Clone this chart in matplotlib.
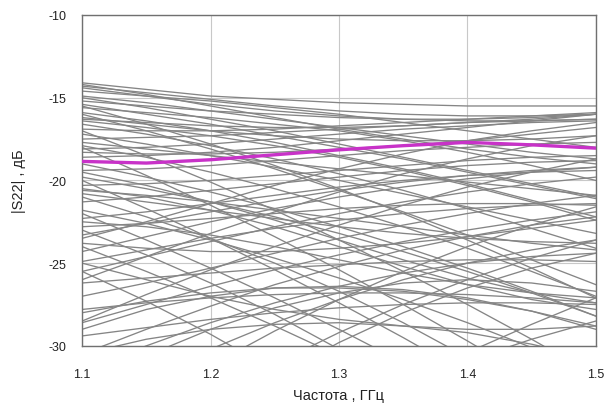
import numpy as np
import matplotlib
matplotlib.use("Agg")
import matplotlib.pyplot as plt

plt.rcParams['font.family'] = ['Liberation Sans', 'DejaVu Sans']
plt.rcParams['axes.unicode_minus'] = False

# frequency grid, GHz
freq = [1.10, 1.15, 1.20, 1.25, 1.30, 1.35, 1.40, 1.45, 1.50]

# nominal |S22|, dB
nominal = [-18.85, -18.95, -18.75, -18.45, -18.15, -17.9, -17.7, -17.85, -18.05]

# Monte Carlo runs, |S22| in dB at each frequency
runs = [
    [-14.1, -14.5, -14.9, -15.1, -15.3, -15.4, -15.5, -15.5, -15.5],
    [-14.3, -14.7, -15.1, -15.5, -15.8, -16.0, -16.1, -16.1, -16.0],
    [-14.6, -14.9, -15.2, -15.6, -16.0, -16.5, -17.0, -17.5, -18.0],
    [-14.9, -15.3, -15.8, -16.3, -16.8, -17.3, -17.8, -18.3, -18.7],
    [-15.2, -15.5, -15.8, -16.0, -16.2, -16.3, -16.3, -16.2, -16.0],
    [-15.6, -15.9, -16.2, -16.6, -17.0, -17.6, -18.3, -19.1, -20.0],
    [-15.9, -16.4, -17.0, -17.7, -18.5, -19.3, -20.2, -21.2, -22.2],
    [-16.2, -16.6, -17.0, -17.3, -17.5, -17.6, -17.6, -17.5, -17.3],
    [-16.6, -17.2, -17.9, -18.7, -19.6, -20.6, -21.7, -22.9, -24.1],
    [-16.9, -17.0, -17.0, -16.9, -16.7, -16.5, -16.3, -16.1, -15.9],
    [-17.2, -17.8, -18.5, -19.2, -20.0, -20.8, -21.6, -22.4, -23.2],
    [-17.5, -17.4, -17.3, -17.1, -16.9, -16.7, -16.5, -16.4, -16.3],
    [-17.9, -18.6, -19.5, -20.5, -21.6, -22.8, -24.1, -25.5, -27.0],
    [-18.3, -18.4, -18.4, -18.3, -18.1, -17.9, -17.6, -17.2, -16.8],
    [-14.2, -14.8, -15.5, -16.2, -16.9, -17.5, -18.1, -18.6, -19.0],
    [-15.0, -15.6, -16.3, -17.0, -17.8, -18.6, -19.4, -20.2, -21.0],
    [-14.4, -14.9, -15.4, -15.8, -16.1, -16.3, -16.4, -16.4, -16.3],
    [-15.4, -16.0, -16.6, -17.3, -18.0, -18.7, -19.5, -20.3, -21.1],
    [-16.4, -16.8, -17.3, -17.9, -18.6, -19.4, -20.3, -21.3, -22.4],
    [-17.7, -18.1, -18.5, -18.9, -19.3, -19.7, -20.1, -20.5, -20.9],
    [-18.1, -18.0, -17.8, -17.5, -17.2, -16.9, -16.7, -16.5, -16.4],
    [-19.0, -19.8, -20.7, -21.7, -22.8, -24.0, -25.3, -26.7, -28.2],
    [-19.4, -19.3, -19.1, -18.8, -18.5, -18.2, -18.0, -17.8, -17.7],
    [-19.8, -20.5, -21.3, -22.2, -23.2, -24.3, -25.5, -26.8, -28.2],
    [-20.3, -20.2, -20.0, -19.7, -19.4, -19.1, -18.8, -18.6, -18.5],
    [-20.8, -21.3, -21.8, -22.3, -22.8, -23.2, -23.5, -23.7, -23.8],
    [-21.3, -21.0, -20.6, -20.2, -19.8, -19.4, -19.1, -18.9, -18.8],
    [-21.8, -22.6, -23.6, -24.7, -25.9, -27.2, -28.6, -30.1, -31.6],
    [-22.3, -21.9, -21.4, -20.9, -20.4, -20.0, -19.7, -19.5, -19.4],
    [-22.8, -22.6, -22.3, -22.0, -21.7, -21.5, -21.4, -21.4, -21.5],
    [-23.3, -22.6, -21.9, -21.2, -20.6, -20.1, -19.7, -19.4, -19.2],
    [-24.3, -23.4, -22.5, -21.7, -21.0, -20.4, -19.9, -19.5, -19.2],
    [-24.9, -24.2, -23.5, -22.9, -22.4, -22.0, -21.7, -21.5, -21.4],
    [-25.5, -24.6, -23.7, -22.8, -22.0, -21.3, -20.7, -20.2, -19.8],
    [-26.2, -25.9, -25.6, -25.3, -25.1, -24.9, -24.8, -24.8, -24.9],
    [-27.0, -26.2, -25.3, -24.4, -23.5, -22.7, -22.0, -21.4, -20.9],
    [-27.8, -27.4, -27.1, -26.9, -26.8, -26.8, -26.9, -27.1, -27.4],
    [-28.6, -27.5, -26.4, -25.4, -24.5, -23.7, -23.0, -22.4, -21.9],
    [-29.4, -28.9, -28.4, -28.0, -27.7, -27.5, -27.4, -27.4, -27.5],
    [-30.5, -29.0, -27.6, -26.3, -25.2, -24.2, -23.4, -22.7, -22.2],
    [-31.5, -30.0, -28.6, -27.4, -26.4, -25.6, -25.0, -24.6, -24.4],
    [-17.0, -18.5, -20.1, -21.8, -23.6, -25.5, -27.5, -29.6, -31.8],
    [-18.0, -19.7, -21.5, -23.4, -25.4, -27.5, -29.7, -32.0, -34.0],
    [-20.0, -21.7, -23.5, -25.4, -27.4, -29.5, -31.7, -34.0, -36.0],
    [-22.0, -23.6, -25.3, -27.1, -29.0, -31.0, -33.0, -35.0, -37.0],
    [-24.0, -25.5, -27.1, -28.8, -30.6, -32.5, -34.5, -36.5, -38.5],
    [-15.5, -16.6, -17.8, -19.1, -20.5, -22.0, -23.6, -25.3, -27.1],
    [-16.0, -17.0, -18.1, -19.3, -20.6, -21.9, -23.3, -24.8, -26.3],
    [-36.0, -33.5, -31.2, -29.1, -27.2, -25.5, -24.0, -22.7, -21.6],
    [-38.0, -35.5, -33.2, -31.1, -29.2, -27.5, -26.0, -24.7, -23.6],
    [-40.0, -37.0, -34.3, -31.9, -29.8, -28.0, -26.5, -25.3, -24.4],
    [-34.0, -32.0, -30.2, -28.6, -27.2, -26.0, -25.0, -24.2, -23.6],
    [-29.0, -27.8, -27.0, -26.5, -26.4, -26.6, -27.1, -27.9, -29.0],
    [-28.0, -27.3, -26.8, -26.5, -26.5, -26.7, -27.2, -27.9, -28.8],
    [-30.5, -29.6, -29.0, -28.7, -28.6, -28.8, -29.2, -29.9, -30.8],
    [-21.0, -22.2, -23.5, -25.0, -26.7, -28.6, -30.7, -33.0, -35.0],
    [-23.0, -24.5, -26.2, -28.1, -30.2, -32.5, -35.0, -37.0, -39.0],
    [-25.5, -27.3, -29.3, -31.5, -34.0, -36.0, -38.0, -40.0, -42.0],
    [-23.5, -22.5, -21.4, -20.3, -19.3, -18.4, -17.6, -17.0, -16.5],
    [-26.0, -24.6, -23.2, -21.9, -20.7, -19.6, -18.7, -17.9, -17.3],
    [-28.5, -26.9, -25.4, -24.0, -22.7, -21.5, -20.4, -19.5, -18.7],
    [-18.6, -18.5, -18.3, -18.0, -17.6, -17.2, -16.8, -16.4, -16.0],
    [-16.3, -16.5, -16.7, -16.8, -16.8, -16.7, -16.5, -16.3, -16.0],
    [-19.5, -20.3, -21.3, -22.4, -23.6, -24.8, -25.9, -26.8, -27.4],
    [-20.5, -21.0, -21.8, -22.8, -24.0, -25.2, -26.3, -27.2, -27.8],
    [-22.5, -22.8, -23.3, -24.0, -24.8, -25.6, -26.3, -26.8, -27.1],
    [-45.0, -42.0, -39.0, -36.5, -34.3, -32.5, -30.9, -29.6, -28.5],
    [-44.0, -41.0, -38.5, -36.2, -34.1, -32.2, -30.4, -28.7, -27.1],
    [-20.6, -20.9, -21.3, -21.8, -22.3, -22.8, -23.3, -23.8, -24.2],
    [-23.8, -24.1, -24.3, -24.3, -24.1, -23.8, -23.4, -22.9, -22.4],
    [-25.0, -26.0, -27.0, -27.8, -28.4, -28.8, -29.0, -29.0, -28.8],
    [-32.5, -30.6, -29.0, -27.7, -26.8, -26.2, -26.0, -26.2, -26.7],
]

xticks = [1.1, 1.2, 1.3, 1.4, 1.5]
yticks = [-30, -25, -20, -15, -10]

fig = plt.figure(figsize=(6.08, 4.10), dpi=100)
ax = fig.add_axes([0.135, 0.154, 0.845, 0.807])

for r in runs:
    ax.plot(freq, r, color='#858585', lw=0.95, zorder=2)
ax.plot(freq, nominal, color='#c832c8', lw=2.4, zorder=3)

ax.set_xlim(1.1, 1.5)
ax.set_ylim(-30, -10)
ax.set_xticks(xticks)
ax.set_xticklabels([f"{t:.1f}" for t in xticks])
ax.set_yticks(yticks)
ax.grid(True, color='#c8c8c8', lw=0.8, zorder=1)
ax.set_axisbelow(True)
ax.tick_params(length=0, labelsize=9, colors='#222222')
ax.tick_params(axis='x', pad=16)
ax.tick_params(axis='y', pad=11)
for s in ax.spines.values():
    s.set_color('#707070')
    s.set_linewidth(1.0)

ax.set_xlabel('Частота , ГГц', fontsize=10.5, labelpad=6, color='#222222')
ax.set_ylabel('|S22| , дБ', fontsize=10.5, color='#222222')
ax.yaxis.set_label_coords(-0.11, 0.5)

fig.savefig('out.png', dpi=100)
